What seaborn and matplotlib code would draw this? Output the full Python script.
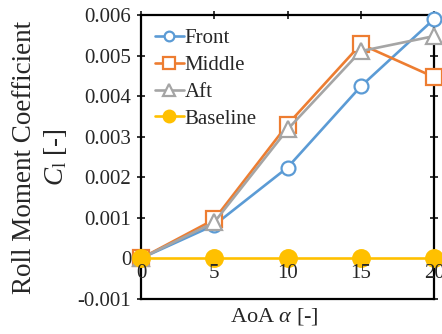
import numpy as np
import pandas as pd
import matplotlib
matplotlib.use("Agg")
import matplotlib.pyplot as plt
import seaborn as sns

# data
aoa = [0, 5, 10, 15, 20]
front = [0.0, 0.00082, 0.00224, 0.00424, 0.0059]
middle = [0.0, 0.00096, 0.0033, 0.00528, 0.00447]
aft = [0.0, 0.00089, 0.00318, 0.00511, 0.00548]
baseline = [0.0, 0.0, 0.0, 0.0, 0.0]

labels = ["Front", "Middle", "Aft", "Baseline"]
colors = ["#5B9BD5", "#ED7D31", "#A5A5A5", "#FFC000"]
markers = ["o", "s", "^", "o"]
msizes = [10, 11.5, 12, 12]


def main():
    sns.set_style("ticks")
    plt.rcParams["font.family"] = ["Liberation Serif", "DejaVu Serif"]
    plt.rcParams["mathtext.fontset"] = "custom"
    plt.rcParams["mathtext.rm"] = "Liberation Serif"
    plt.rcParams["mathtext.it"] = "Liberation Serif:italic"

    df = pd.DataFrame({"AoA": aoa, "Front": front, "Middle": middle,
                       "Aft": aft, "Baseline": baseline})

    fig, ax = plt.subplots(figsize=(4.42, 3.34), dpi=100)
    fig.subplots_adjust(left=0.319, right=0.982, top=0.955, bottom=0.105)

    for name, c, m, ms in zip(labels, colors, markers, msizes):
        filled = name == "Baseline"
        sns.lineplot(data=df, x="AoA", y=name, ax=ax, color=c, marker=m,
                     markersize=ms,
                     markerfacecolor=c if filled else "white",
                     markeredgecolor=c, markeredgewidth=1.6,
                     linewidth=1.9, label=name, clip_on=False, zorder=3)

    ax.set_xlim(0, 20)
    ax.set_ylim(-0.001, 0.006)
    ax.set_yticks(np.arange(-0.001, 0.0061, 0.001))
    ax.set_yticklabels(["-0.001", "0", "0.001", "0.002", "0.003",
                        "0.004", "0.005", "0.006"])
    ax.set_xticks(aoa)

    for s in ax.spines.values():
        s.set_visible(True)
        s.set_linewidth(1.6)
        s.set_color("black")

    # x ticks on top only, labels on an axis placed at y = 0
    ax.tick_params(axis="x", bottom=False, top=True, labelbottom=False,
                   direction="inout", length=6, width=1.3)
    ax.tick_params(axis="y", left=True, right=True, direction="inout",
                   length=6, width=1.3, labelsize=15, pad=4)
    sec = ax.secondary_xaxis(1 / 7)
    sec.set_xticks(aoa)
    sec.spines["bottom"].set_visible(False)
    sec.tick_params(length=0, labelsize=15, pad=4)
    sec.set_zorder(5)

    ax.set_xlabel(r"AoA $\alpha$ [-]", fontsize=16, labelpad=2)
    ax.xaxis.set_label_coords(0.455, -0.025, transform=ax.transAxes)
    ax.xaxis.label.set_va("top")
    ax.set_ylabel("Roll Moment Coefficient\n" + r"$C_{\mathrm{l}}$ [-]",
                  fontsize=19.5, labelpad=6, linespacing=1.25)

    ax.legend(loc="upper left", frameon=False, fontsize=15,
              handlelength=1.4, handletextpad=0.05, labelspacing=0.35,
              borderaxespad=0.25, markerscale=0.7)

    plt.savefig("out.png", dpi=100)
    plt.close()


if __name__ == "__main__":
    main()
